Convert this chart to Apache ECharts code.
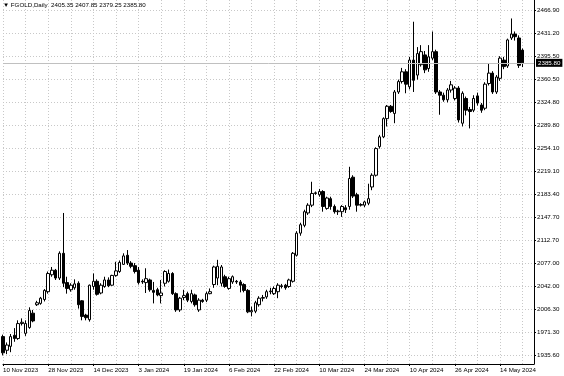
<!DOCTYPE html>
<html><head><meta charset="utf-8">
<script src="https://cdn.jsdelivr.net/npm/echarts@6/dist/echarts.min.js"></script>
<style>html,body{margin:0;padding:0;background:#fff}#c{width:564px;height:376px}</style>
</head><body><div id="c"></div>
<script>
const symbol = 'FGOLD';
const period = 'Daily';
const dates = [
'10 Nov 2023','13 Nov 2023','14 Nov 2023','15 Nov 2023','16 Nov 2023','17 Nov 2023','20 Nov 2023','21 Nov 2023','22 Nov 2023','23 Nov 2023','24 Nov 2023','27 Nov 2023','28 Nov 2023','29 Nov 2023','30 Nov 2023',
'1 Dec 2023','4 Dec 2023','5 Dec 2023','6 Dec 2023','7 Dec 2023','8 Dec 2023','11 Dec 2023','12 Dec 2023','13 Dec 2023','14 Dec 2023','15 Dec 2023','18 Dec 2023','19 Dec 2023','20 Dec 2023','21 Dec 2023','22 Dec 2023','26 Dec 2023','27 Dec 2023','28 Dec 2023','29 Dec 2023',
'2 Jan 2024','3 Jan 2024','4 Jan 2024','5 Jan 2024','8 Jan 2024','9 Jan 2024','10 Jan 2024','11 Jan 2024','12 Jan 2024','15 Jan 2024','16 Jan 2024','17 Jan 2024','18 Jan 2024','19 Jan 2024','22 Jan 2024','23 Jan 2024','24 Jan 2024','25 Jan 2024','26 Jan 2024','29 Jan 2024','30 Jan 2024','31 Jan 2024',
'1 Feb 2024','2 Feb 2024','5 Feb 2024','6 Feb 2024','7 Feb 2024','8 Feb 2024','9 Feb 2024','12 Feb 2024','13 Feb 2024','14 Feb 2024','15 Feb 2024','16 Feb 2024','19 Feb 2024','20 Feb 2024','21 Feb 2024','22 Feb 2024','23 Feb 2024','26 Feb 2024','27 Feb 2024','28 Feb 2024','29 Feb 2024',
'1 Mar 2024','4 Mar 2024','5 Mar 2024','6 Mar 2024','7 Mar 2024','8 Mar 2024','10 Mar 2024','11 Mar 2024','12 Mar 2024','13 Mar 2024','14 Mar 2024','15 Mar 2024','17 Mar 2024','18 Mar 2024','19 Mar 2024','20 Mar 2024','21 Mar 2024','22 Mar 2024','24 Mar 2024','25 Mar 2024','26 Mar 2024','27 Mar 2024','28 Mar 2024',
'1 Apr 2024','2 Apr 2024','3 Apr 2024','4 Apr 2024','5 Apr 2024','8 Apr 2024','9 Apr 2024','10 Apr 2024','11 Apr 2024','12 Apr 2024','15 Apr 2024','16 Apr 2024','17 Apr 2024','18 Apr 2024','19 Apr 2024','22 Apr 2024','23 Apr 2024','24 Apr 2024','25 Apr 2024','26 Apr 2024','29 Apr 2024','30 Apr 2024',
'1 May 2024','2 May 2024','3 May 2024','6 May 2024','7 May 2024','8 May 2024','9 May 2024','10 May 2024','13 May 2024','14 May 2024','15 May 2024','16 May 2024','17 May 2024','20 May 2024','21 May 2024','22 May 2024'
];
const futureDates = ['23 May 2024','24 May 2024','27 May 2024'];

const opens = [1965,1944,1950,1967,1962,1985,1970,1979,2001,2014,2016,2022,2034,2060,2067,2055,2093,2048,2037,2040,
2047,2020,1998,1991,2042,2050,2032,2042,2052,2044,2059,2065,2076,2090,2078,2074,2067,2050,2048,2052,
2036,2037,2028,2047,2050,2062,2031,2006,2025,2031,2019,2029,2006,2021,2021,2031,2045,2055,2047,2057,
2039,2049,2050,2049,2045,2036,2003,2004,2014,2024,2026,2034,2031,2034,2043,2044,2042,2050,2090,2124,
2136,2155,2167,2185,2183,2188,2162,2177,2165,2157,2157,2163,2165,2210,2183,2167,2167,2170,2195,2213,
2257,2272,2300,2319,2308,2341,2357,2372,2349,2390,2367,2383,2398,2377,2393,2403,2341,2336,2329,2344,
2331,2347,2293,2331,2314,2313,2335,2321,2316,2354,2370,2341,2362,2390,2381,2424,2430,2424,2405.35];
const closes = [1940,1952,1965,1962,1985,1987,1985,2005,1989,2017,2024,2036,2062,2067,2055,2093,2047,2039,2044,2046,
2014,1996,1994,2044,2050,2030,2044,2052,2043,2059,2066,2079,2089,2078,2073,2065,2048,2049,2054,2037,
2033,2029,2032,2065,2062,2031,2006,2024,2028,2021,2031,2014,2021,2019,2031,2034,2072,2073,2072,2042,
2054,2057,2049,2044,2036,2003,2005,2017,2024,2025,2034,2035,2039,2044,2042,2040,2052,2093,2124,2137,
2157,2167,2185,2186,2188,2165,2178,2165,2157,2158,2165,2160,2208,2181,2167,2168,2172,2177,2213,2254,
2272,2300,2319,2311,2341,2357,2372,2353,2390,2359,2400,2403,2375,2395,2403,2341,2336,2329,2344,2352,
2347,2298,2339,2313,2311,2331,2324,2313,2353,2370,2341,2364,2393,2380,2421,2430,2426,2382,2385.80];
const lows = [1936,1938,1941,1957,1960,1982,1966,1977,1987,2012,2014,2019,2031,2057,2052,2052,2041,2031,2034,2037,
2008,1990,1990,1988,2037,2028,2030,2040,2041,2043,2057,2063,2075,2075,2070,2062,2045,2046,2032,2034,
2016,2027,2016,2042,2048,2029,2003,2003,2021,2018,2016,2011,2003,2017,2018,2030,2040,2044,2042,2040,
2037,2046,2046,2033,2033,2001,1996,2001,2011,2019,2023,2030,2029,2024,2039,2037,2040,2048,2088,2120,
2133,2152,2164,2183,2180,2157,2160,2160,2154,2152,2149,2155,2160,2178,2157,2165,2164,2167,2190,2211,
2254,2270,2288,2309,2293,2338,2354,2339,2345,2341,2360,2380,2370,2372,2390,2338,2306,2326,2325,2340,
2328,2294,2288,2305,2285,2310,2320,2309,2313,2351,2338,2338,2358,2376,2378,2421,2420,2378,2379.25];
const highs = [1968,1956,1969,1978,1990,1993,1990,2010,2006,2020,2026,2038,2065,2072,2069,2096,2155,2057,2047,2053,
2050,2021,2000,2045,2062,2053,2047,2057,2056,2060,2080,2082,2093,2098,2081,2078,2072,2053,2070,2054,
2049,2040,2052,2067,2068,2064,2033,2026,2037,2034,2037,2031,2024,2023,2034,2039,2074,2083,2075,2060,
2057,2059,2052,2052,2047,2038,2011,2020,2027,2029,2037,2040,2042,2047,2046,2046,2054,2095,2127,2140,
2160,2170,2203,2188,2192,2190,2180,2180,2168,2160,2167,2167,2226,2213,2186,2170,2174,2200,2216,2256,
2275,2302,2321,2321,2344,2360,2378,2376,2395,2449,2410,2413,2404,2413,2434,2406,2344,2340,2347,2358,
2350,2350,2342,2334,2318,2336,2340,2324,2356,2385,2373,2367,2396,2395,2423,2454,2434,2428,2407.85];

const priceTicks = [2466.90,2431.20,2395.50,2360.50,2324.80,2289.80,2254.10,2219.10,2183.40,2147.70,2112.70,2077.00,2042.00,2006.30,1971.30,1935.60];
const timeLabels = ['10 Nov 2023','28 Nov 2023','14 Dec 2023','3 Jan 2024','19 Jan 2024','6 Feb 2024','22 Feb 2024','10 Mar 2024','24 Mar 2024','10 Apr 2024','26 Apr 2024','14 May 2024'];

const ohlc = dates.map((d, i) => [opens[i], closes[i], lows[i], highs[i]]);
const last = dates.length - 1;
const fmt = v => v.toFixed(2);
const header = '\u25BC ' + symbol + ',' + period + '  ' + [opens[last], highs[last], lows[last], closes[last]].map(fmt).join(' ');
const FONT = 'Liberation Sans, Arial, sans-serif';
const FS = 6.2;

const chart = echarts.init(document.getElementById('c'), null, {renderer: 'canvas'});
chart.setOption({
  animation: false,
  backgroundColor: '#fff',
  title: {
    text: header, left: 3, top: 2, padding: 0,
    textStyle: {fontSize: FS, fontWeight: 'normal', color: '#000', fontFamily: FONT}
  },
  grid: {left: 1, right: 30, top: 0, bottom: 12, show: false},
  xAxis: {
    type: 'category',
    data: dates.concat(futureDates),
    boundaryGap: false,
    axisLine: {show: true, onZero: false, lineStyle: {color: '#000', width: 1}},
    axisTick: {show: true, length: 2, interval: (i, v) => timeLabels.includes(v), lineStyle: {color: '#000'}},
    axisLabel: {
      interval: (i, v) => timeLabels.includes(v),
      align: 'left', margin: 3, fontSize: FS, color: '#000', fontFamily: FONT,
      showMaxLabel: true, showMinLabel: true, hideOverlap: false
    },
    splitLine: {show: true, interval: 5, lineStyle: {color: '#c8c8c8', type: [1, 2], width: 1}}
  },
  yAxis: {
    type: 'value',
    position: 'right',
    min: 1922.85, max: 2482.39,
    scale: true,
    axisLine: {show: true, lineStyle: {color: '#000', width: 1}},
    axisTick: {show: true, length: 2, customValues: priceTicks, lineStyle: {color: '#000'}},
    axisLabel: {customValues: priceTicks, formatter: v => v.toFixed(2), margin: 3, fontSize: FS, color: '#000', fontFamily: FONT},
    splitLine: {show: true, lineStyle: {color: '#c8c8c8', type: [1, 2], width: 1}}
  },
  series: [{
    type: 'candlestick',
    data: ohlc,
    barWidth: 3,
    itemStyle: {color: '#fff', color0: '#000', borderColor: '#000', borderColor0: '#000', borderWidth: 1},
    markLine: {
      silent: true, symbol: 'none', animation: false,
      data: [{yAxis: closes[last]}],
      lineStyle: {color: '#c0c0c0', type: 'solid', width: 1},
      label: {position: 'end', formatter: fmt(closes[last]), backgroundColor: '#000', color: '#fff',
        padding: [1, 2, 1, 2], fontSize: FS, fontFamily: FONT, distance: 2}
    }
  }]
});
</script></body></html>
